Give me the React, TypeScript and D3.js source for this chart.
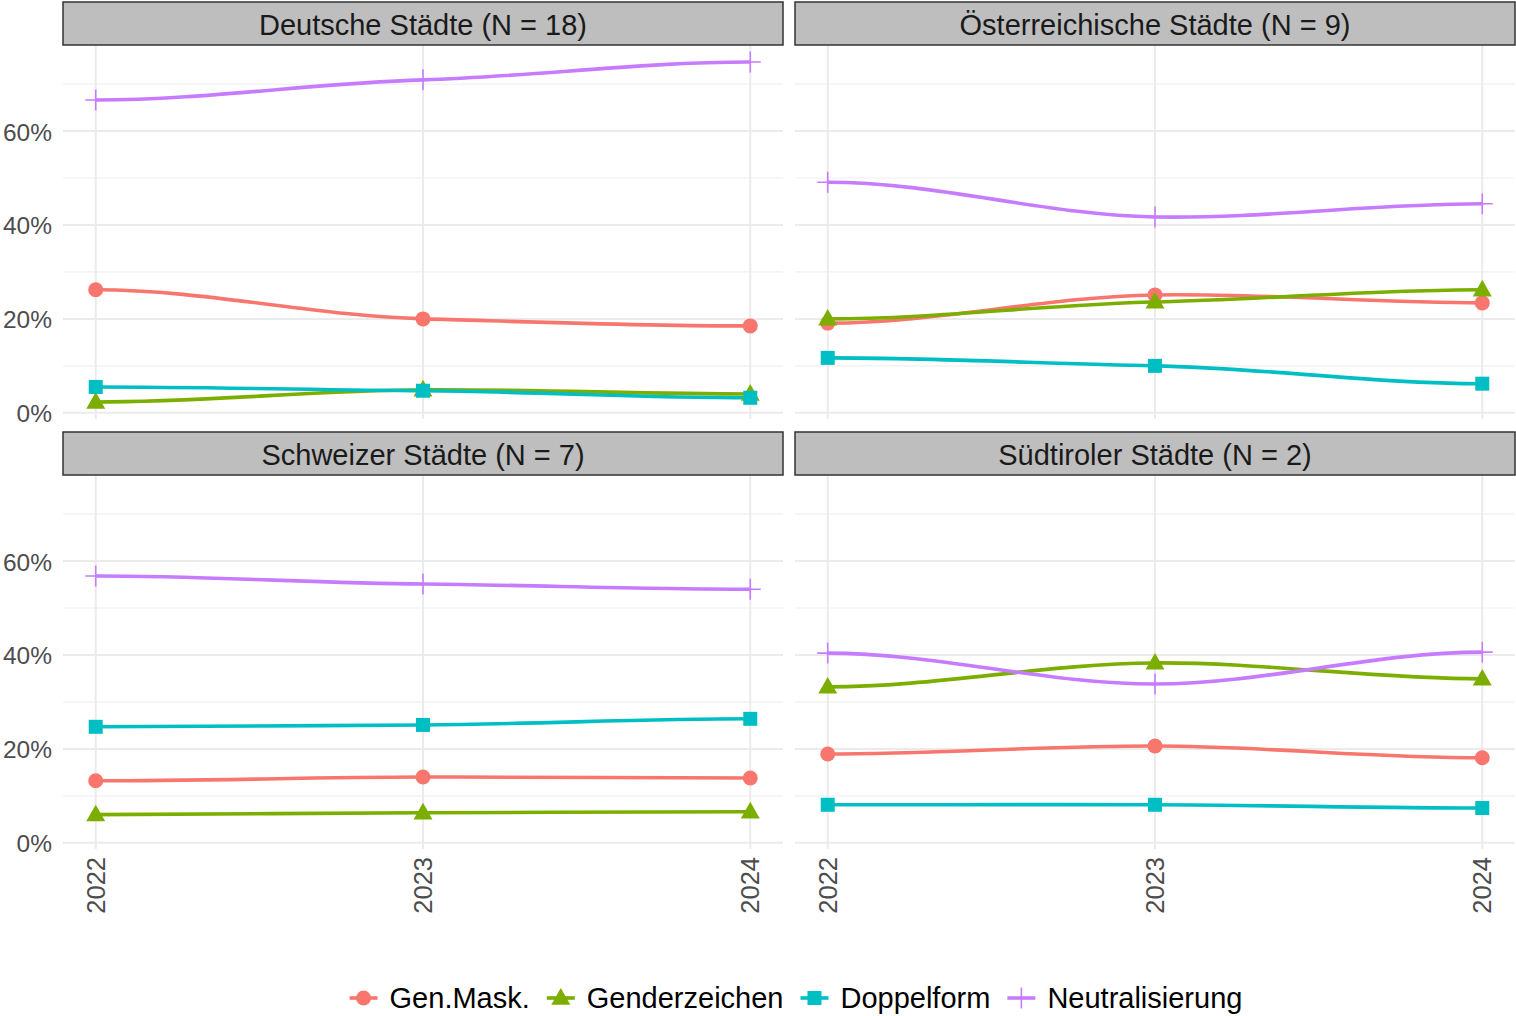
import { useEffect, useRef } from 'react'
import * as d3 from 'd3'

const YEARS = [2022, 2023, 2024]
const SERIES = ['Gen.Mask.', 'Genderzeichen', 'Doppelform', 'Neutralisierung']
const COLORS = ['#F8766D', '#7CAE00', '#00BFC4', '#C77CFF']
const SHAPES = ['circle', 'triangle', 'square', 'plus']

const FACETS = [
  'Deutsche Städte (N = 18)',
  'Österreichische Städte (N = 9)',
  'Schweizer Städte (N = 7)',
  'Südtiroler Städte (N = 2)',
]

// values in %, one row per series (order as SERIES), one column per year
const DE = [
  [26.2, 20.0, 18.5],
  [2.3, 4.9, 4.0],
  [5.5, 4.7, 3.2],
  [66.6, 70.9, 74.7],
]
const AT = [
  [19.1, 25.1, 23.4],
  [20.0, 23.6, 26.2],
  [11.7, 10.0, 6.2],
  [49.1, 41.7, 44.5],
]
const CH = [
  [13.2, 14.0, 13.8],
  [6.0, 6.4, 6.6],
  [24.7, 25.1, 26.4],
  [56.8, 55.1, 54.0],
]
const ST = [
  [18.9, 20.6, 18.1],
  [33.2, 38.3, 34.9],
  [8.1, 8.1, 7.4],
  [40.4, 33.8, 40.6],
]
const PANEL_DATA = [DE, AT, CH, ST]

const Y_MAJOR = [0, 20, 40, 60]
const Y_MINOR = [10, 30, 50, 70]

const W = 1516
const H = 1016
const FONT = '"Liberation Sans", Arial, Helvetica, sans-serif'
const COLS = [{ x0: 63, x1: 783 }, { x0: 795, x1: 1515 }]
const ROWS = [{ strip: 2, top: 45, bottom: 419 }, { strip: 432, top: 475, bottom: 849 }]

// smooth curve through the points, flat at the ends, damped tangents inside
// (roughly what an x-spline looks like)
function softCurve(context: d3.Path | CanvasRenderingContext2D) {
  let pts: [number, number][] = []
  return {
    areaStart() {},
    areaEnd() {},
    lineStart() { pts = [] },
    point(x: number, y: number) { pts.push([x, y]) },
    lineEnd() {
      const n = pts.length
      if (!n) return
      const m = pts.map((p, i) => {
        if (i === 0 || i === n - 1) return 0
        return 0.5 * (pts[i + 1][1] - pts[i - 1][1]) / (pts[i + 1][0] - pts[i - 1][0])
      })
      context.moveTo(pts[0][0], pts[0][1])
      for (let i = 0; i < n - 1; i++) {
        const [x0, y0] = pts[i]
        const [x1, y1] = pts[i + 1]
        const dx = (x1 - x0) / 3
        context.bezierCurveTo(x0 + dx, y0 + m[i] * dx, x1 - dx, y1 - m[i + 1] * dx, x1, y1)
      }
    },
  }
}

function drawShape(g: d3.Selection<SVGGElement, unknown, null, undefined>, shape: string, color: string, cx: number, cy: number) {
  if (shape === 'circle') {
    g.append('circle').attr('cx', cx).attr('cy', cy).attr('r', 7.5).attr('fill', color)
  } else if (shape === 'triangle') {
    const s = 9.5
    g.append('path')
      .attr('d', `M${cx},${cy - s * 1.05}L${cx + s},${cy + s * 0.7}L${cx - s},${cy + s * 0.7}Z`)
      .attr('fill', color)
  } else if (shape === 'square') {
    g.append('rect').attr('x', cx - 7).attr('y', cy - 7).attr('width', 14).attr('height', 14).attr('fill', color)
  } else {
    const s = 10.5
    g.append('path')
      .attr('d', `M${cx - s},${cy}H${cx + s}M${cx},${cy - s}V${cy + s}`)
      .attr('stroke', color).attr('stroke-width', 1.6).attr('fill', 'none')
  }
}

export default function App() {
  const svgRef = useRef<SVGSVGElement>(null)

  useEffect(() => {
    if (!svgRef.current) return
    const svg = d3.select(svgRef.current)
    svg.selectAll('*').remove()

    const all = PANEL_DATA.flat(2)
    const lo = d3.min(all) as number
    const hi = d3.max(all) as number
    const pad = (hi - lo) * 0.05

    svg.append('rect').attr('width', W).attr('height', H).attr('fill', '#fff')

    PANEL_DATA.forEach((data, i) => {
      const col = COLS[i % 2]
      const row = ROWS[Math.floor(i / 2)]
      const x = d3.scaleLinear().domain([2022 - 0.1, 2024 + 0.1]).range([col.x0, col.x1])
      const y = d3.scaleLinear().domain([lo - pad, hi + pad]).range([row.bottom, row.top])
      const g = svg.append('g')

      // grid
      g.selectAll('line.minor').data(Y_MINOR).join('line')
        .attr('x1', col.x0).attr('x2', col.x1)
        .attr('y1', d => y(d)).attr('y2', d => y(d))
        .attr('stroke', '#f0f0f0').attr('stroke-width', 1.2)
      g.selectAll('line.major').data(Y_MAJOR).join('line')
        .attr('x1', col.x0).attr('x2', col.x1)
        .attr('y1', d => y(d)).attr('y2', d => y(d))
        .attr('stroke', '#ebebeb').attr('stroke-width', 2)
      g.selectAll('line.vx').data(YEARS).join('line')
        .attr('x1', d => x(d)).attr('x2', d => x(d))
        .attr('y1', row.top).attr('y2', row.bottom)
        .attr('stroke', '#ebebeb').attr('stroke-width', 2)

      // strip
      g.append('rect')
        .attr('x', col.x0).attr('y', row.strip)
        .attr('width', col.x1 - col.x0).attr('height', row.top - row.strip)
        .attr('fill', '#bebebe').attr('stroke', '#333333').attr('stroke-width', 1.5)
      g.append('text')
        .attr('x', (col.x0 + col.x1) / 2).attr('y', (row.strip + row.top) / 2 + 1)
        .attr('text-anchor', 'middle').attr('dominant-baseline', 'central')
        .style('font-family', FONT).style('font-size', '29px').style('fill', '#1a1a1a')
        .text(FACETS[i])

      // y labels on left column
      if (i % 2 === 0) {
        g.selectAll('text.yl').data(Y_MAJOR).join('text')
          .attr('x', col.x0 - 11).attr('y', d => y(d) + 1)
          .attr('text-anchor', 'end').attr('dominant-baseline', 'central')
          .style('font-family', FONT).style('font-size', '24.5px').style('fill', '#4d4d4d')
          .text(d => `${d}%`)
      }
      // x labels on bottom row
      if (i >= 2) {
        g.selectAll('text.xl').data(YEARS).join('text')
          .attr('transform', d => `translate(${x(d)},${row.bottom + 8}) rotate(-90)`)
          .attr('text-anchor', 'end').attr('dominant-baseline', 'central')
          .style('font-family', FONT).style('font-size', '25.5px').style('fill', '#4d4d4d')
          .text(d => String(d))
      }

      const line = d3.line<number>()
        .x((_, j) => x(YEARS[j]))
        .y(d => y(d))
        .curve(softCurve as unknown as d3.CurveFactory)

      data.forEach((vals, s) => {
        g.append('path').attr('d', line(vals))
          .attr('fill', 'none').attr('stroke', COLORS[s]).attr('stroke-width', 3.6)
          .attr('stroke-linecap', 'butt')
      })
      data.forEach((vals, s) => {
        vals.forEach((v, j) => drawShape(g, SHAPES[s], COLORS[s], x(YEARS[j]), y(v)))
      })
    })

    // legend
    const leg = svg.append('g')
    const ly = 998
    const keyW = 28
    const items = SERIES.map(name => {
      const t = leg.append('text').attr('y', ly).attr('dominant-baseline', 'central')
        .style('font-family', FONT).style('font-size', '29px').style('fill', '#000')
        .text(name)
      return { t, w: (t.node() as SVGTextElement).getComputedTextLength() }
    })
    const total = d3.sum(items, d => keyW + 12 + d.w) + 17 * (items.length - 1)
    let cx = 796 - total / 2
    items.forEach((it, s) => {
      leg.append('line').attr('x1', cx).attr('x2', cx + keyW).attr('y1', ly).attr('y2', ly)
        .attr('stroke', COLORS[s]).attr('stroke-width', 3.6)
      drawShape(leg, SHAPES[s], COLORS[s], cx + keyW / 2, ly)
      it.t.attr('x', cx + keyW + 12)
      cx += keyW + 12 + it.w + 17
    })
  }, [])

  return (
    <div style={{ position: 'absolute', left: 0, top: 0 }}>
      <svg ref={svgRef} width={W} height={H} style={{ display: 'block' }} />
    </div>
  )
}
